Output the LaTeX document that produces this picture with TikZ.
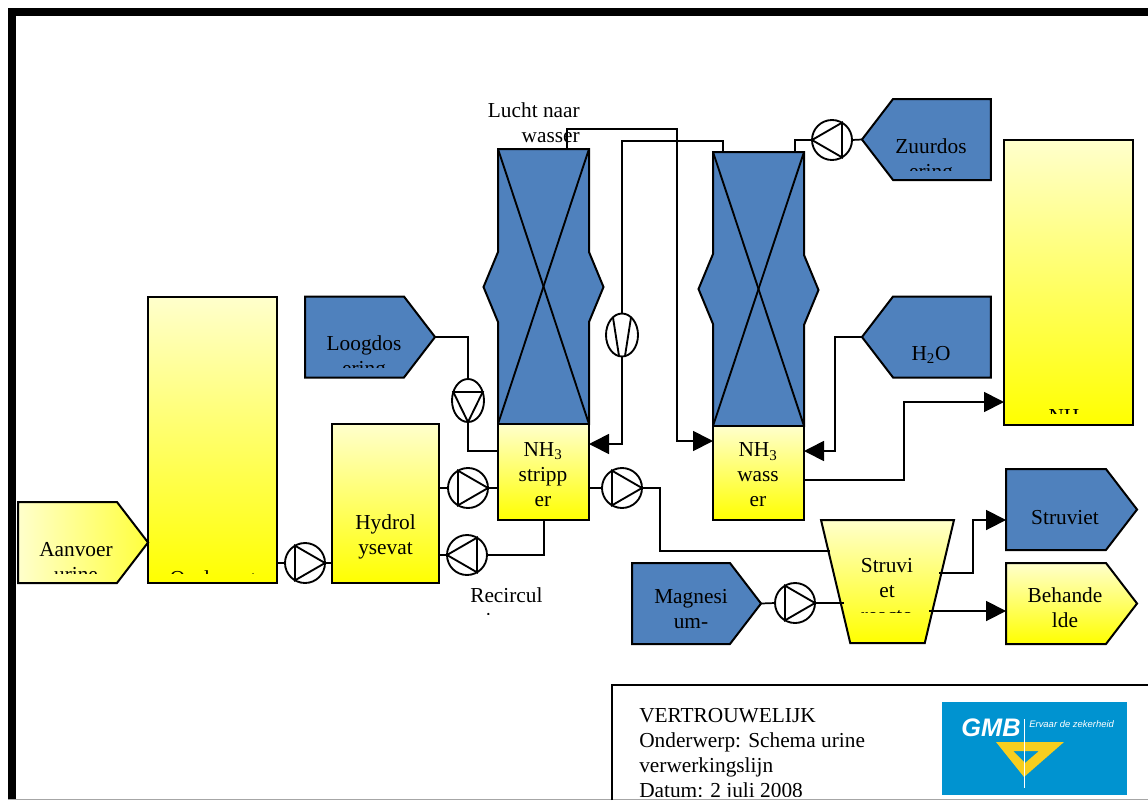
\documentclass[tikz,border=0pt]{standalone}
\usepackage{fontspec}
\setmainfont{Liberation Serif}
\newfontfamily\logofont{Liberation Sans}
\usetikzlibrary{arrows.meta,shapes.geometric,shapes.symbols}
\definecolor{procesblauw}{HTML}{4F81BD}
\definecolor{lichtgeel}{HTML}{FFFFCC}
\definecolor{logoblauw}{HTML}{0093D0}
\definecolor{logogeel}{HTML}{F7CE1E}
\newcommand{\px}{0.75pt}
\newcommand{\kaplabel}[5]{%
  \begin{scope}
    \clip (#2-110,#3-60) rectangle (#2+110,#4);
    \node[tekst] (#1) at (#2,#3) {#5};
  \end{scope}}
\tikzset{
  maat/.style 2 args={minimum width=#1*\px, minimum height=#2*\px},
  blok/.style={draw=black, line width=1.5pt, inner sep=0pt, outer sep=0pt},
  geelvlak/.style={blok, top color=lichtgeel, bottom color=yellow},
  blauwvlak/.style={blok, fill=procesblauw},
  tekst/.style={font=\fontsize{16}{18.75}\selectfont, align=center, inner sep=0pt},
  pijlvorm/.style={signal, signal to=#1, signal pointer angle=105},
  pomp/.style={draw=black, line width=1.4pt, fill=white, circle, minimum size=40*\px, inner sep=0pt, outer sep=0pt},
  ovaalpomp/.style={draw=black, line width=1.4pt, fill=white, ellipse, maat={32}{43}, inner sep=0pt, outer sep=0pt},
  leiding/.style={line width=1.3pt},
  pijlleiding/.style={leiding, -{Triangle[length=15pt,width=15pt]}}
}
\begin{document}
\begin{tikzpicture}[x=0.75pt,y=-0.75pt]
    \useasboundingbox (0,0) rectangle (1148,800);
    % kader
    \fill (8,8) rectangle (1148,15.5);
    \fill (8,8) rectangle (15.5,800);
    \fill[black!35] (8,799) rectangle (1148,800);

    % kolommen
    \node[blauwvlak, maat={91}{275}] (stripkolom) at (543.5,286.5) {};
    \node[blauwvlak, maat={91}{274}] (waskolom) at (758.5,289) {};
    \foreach \kolom in {stripkolom,waskolom} {
        \draw[blauwvlak] (\kolom.north west) -- (\kolom.north east) -- ++(0,103) -- ++(14.5,35) -- ++(-14.5,35)
            -- (\kolom.south east) -- (\kolom.south west) -- ++(0,-102) -- ++(-14.5,-35) -- ++(14.5,-35) -- cycle;
        \draw[line width=1.4pt] (\kolom.north west) -- (\kolom.south east);
        \draw[line width=1.4pt] (\kolom.north east) -- (\kolom.south west);
    }

    % vaten
    \node[geelvlak, maat={129}{286}] (opslag) at (212.5,440) {};
    \node[geelvlak, maat={107}{159}] (hydrolyse) at (385.5,503.5) {};
    \node[geelvlak, maat={91}{96}] (stripper) at (543.5,472) {};
    \node[geelvlak, maat={91}{94}] (wasser) at (758.5,473) {};
    \node[geelvlak, maat={129}{285}] (nhtank) at (1068.5,282.5) {};
    \node[geelvlak, trapezium, shape border rotate=180, trapezium angle=68.6, trapezium stretches=true, inner sep=2pt, maat={133}{123}] (reactor) at (887.5,581.5) {};

    % aan- en afvoer
    \node[blok, left color=lichtgeel, right color=yellow!70!lichtgeel, pijlvorm=east, maat={130}{81}] (aanvoer) at (67.5,542.5) {};
    \node[blauwvlak, pijlvorm=east, maat={130}{81}] (loog) at (354.5,337) {};
    \node[blauwvlak, pijlvorm=west, maat={129}{81}] (zuur) at (942,139.5) {};
    \node[blauwvlak, pijlvorm=west, maat={129}{81}] (water) at (942,337) {};
    \node[blauwvlak, pijlvorm=east, maat={131}{81}] (struviet) at (1056,509.5) {};
    \node[geelvlak, pijlvorm=east, maat={131}{81}] (behandeld) at (1056,603.5) {};
    \node[blauwvlak, pijlvorm=east, maat={129}{81}] (magnesium) at (681,603.5) {};

    % pompen
    \node[pomp] (pomp1) at (305,563) {};
    \node[pomp] (pomp2) at (468,488) {};
    \node[pomp] (pomp3) at (467,555) {};
    \node[pomp] (pomp4) at (622,488) {};
    \node[pomp] (pomp5) at (795,603) {};
    \node[pomp] (pomp6) at (832,140) {};
    \node[ovaalpomp] (pomp7) at (468,400.5) {};
    \node[ovaalpomp] (blower) at (622,335) {};
    \foreach \pomp/\hoek in {pomp1/0,pomp2/0,pomp3/180,pomp4/0,pomp5/0,pomp6/180,pomp7/270} {
        \draw[line width=1.4pt] (\pomp.\hoek) -- (\pomp.\hoek+120) -- (\pomp.\hoek+240) -- cycle;
    }
    \draw[line width=1.4pt] (blower.117) -- (blower.262);
    \draw[line width=1.4pt] (blower.63) -- (blower.278);

    % aansluitpunten
    \coordinate (striptop) at (567,149);
    \coordinate (wastop) at (723,152);
    \coordinate (zuurtop) at (795,152);
    \coordinate (reactorin) at (829.5,551);
    \coordinate (reactormg) at (844,603);
    \coordinate (reactoruit) at (939,573);
    \coordinate (reactorbeh) at (929,611);

    % leidingen
    \draw[leiding] (opslag.east |- pomp1) -- (pomp1.west);
    \draw[leiding] (pomp1.east) -- (hydrolyse.west |- pomp1);
    \draw[leiding] (hydrolyse.east |- pomp2) -- (pomp2.west);
    \draw[leiding] (pomp2.east) -- (stripper.west |- pomp2);
    \draw[leiding] (stripper.south) ++(0.5,0) |- (pomp3.east);
    \draw[leiding] (pomp3.west) -- (hydrolyse.east |- pomp3);
    \draw[leiding] (stripper.east |- pomp4) -- (pomp4.west);
    \draw[leiding] (pomp4.east) -- (660,488) |- (reactorin);
    \draw[leiding] (loog.east) -| (pomp7.north);
    \draw[leiding] (pomp7.south) |- (stripper.west |- 0,451);
    \draw[leiding] (magnesium.east) -- (pomp5.west);
    \draw[leiding] (pomp5.east) -- (reactormg);
    \draw[leiding] (zuur.west) -- (pomp6.east);
    \draw[leiding] (pomp6.west) -| (zuurtop);
    \draw[leiding] (wastop) |- (blower.north |- 0,141) -- (blower.north);
    \draw[pijlleiding] (blower.south) |- (stripper.east |- 0,444);
    \draw[pijlleiding] (striptop) |- (677,129) |- (wasser.west |- 0,441);
    \draw[pijlleiding] (water.west) -| (835,451) -- (wasser.east |- 0,451);
    \draw[pijlleiding] (wasser.east |- 0,480) -| (904,402) -- (nhtank.west |- 0,402);
    \draw[pijlleiding] (reactoruit) -| (973,520) -- (struviet.west |- 0,520);
    \draw[pijlleiding] (reactorbeh) -- (behandeld.west |- 0,611);

    % teksten
    \kaplabel{aanvoertekst}{76}{562}{573}{Aanvoer\\urine}
    \kaplabel{opslagtekst}{213}{580}{573}{Opslagvat}
    \kaplabel{loogtekst}{364}{358}{367}{Loogdos\\ering}
    \kaplabel{zuurtekst}{931}{161}{170}{Zuurdos\\ering}
    \kaplabel{nhtekst}{1068}{418}{413}{NH\textsubscript{3}}
    \kaplabel{reactortekst}{887}{591}{612}{Struvi\\et\\reacto}
    \kaplabel{magnesiumtekst}{691}{622}{631}{Magnesi\\um-\\chloride}
    \node[tekst] (hydrolysetekst) at (385.5,536.5) {Hydrol\\ysevat};
    \node[tekst] (stripnaam) at (543,474.5) {NH\textsubscript{3}\\stripp\\er};
    \node[tekst] (wasnaam) at (758,475) {NH\textsubscript{3}\\wass\\er};
    \node[tekst] (watertekst) at (931,355) {H\textsubscript{2}O};
    \node[tekst] (struviettekst) at (1065,518) {Struviet};
    \node[tekst] (behandeldtekst) at (1065,608) {Behande\\lde};
    \node[tekst, align=right, anchor=north east] (luchttekst) at (580,102) {Lucht naar\\wasser};
    \begin{scope}
        \clip (460,580) rectangle (560,614);
        \node[tekst, align=left, anchor=north west] (recirculatie) at (470,587) {Recircul\\atie};
    \end{scope}

    % titelvak
    \draw[line width=1.5pt] (611.5,800) |- (1148,684.5);
    \begin{scope}
        \clip (630,690) rectangle (930,796);
        \node[tekst, align=left, anchor=north west] (titel) at (639,708) {VERTROUWELIJK\\Onderwerp: Schema urine\\verwerkingslijn\\Datum: 2 juli 2008};
    \end{scope}

    % logo
    \node[fill=logoblauw, inner sep=0pt, maat={185}{93}] (logo) at (1034.5,748.5) {};
    \fill[logogeel, even odd rule] (996,742) -- (1064,742) -- (1024,777) -- cycle (1013,751) -- (1039,751) -- (1025,763) -- cycle;
    \draw[white, line width=0.5pt] (1024,719) -- (1024,788);
    \node[text=white, inner sep=0pt] (gmb) at (991,728) {\logofont\bfseries\itshape\fontsize{19}{19}\selectfont GMB};
    \node[text=white, inner sep=0pt, anchor=west] (slogan) at (1029,724) {\logofont\itshape\fontsize{7.1}{9}\selectfont Ervaar de zekerheid};
\end{tikzpicture}
\end{document}
